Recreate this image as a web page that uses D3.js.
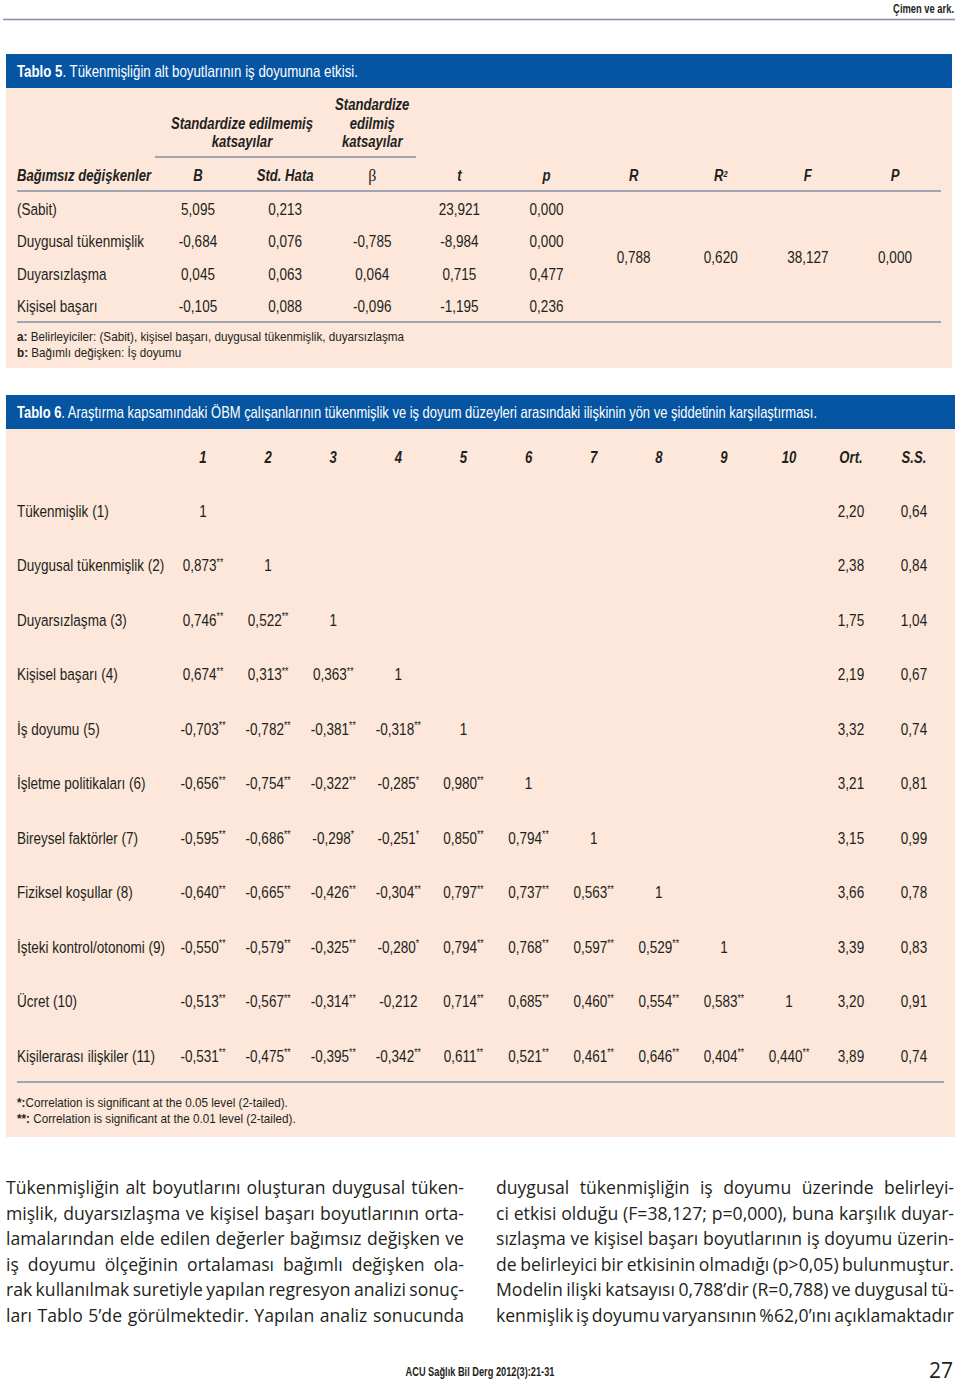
<!DOCTYPE html>
<html><head><meta charset="utf-8">
<script src="https://cdn.jsdelivr.net/npm/d3@7"></script>
<style>body{margin:0;background:#fff}svg{display:block}</style>
</head><body>
<svg id="page" width="960" height="1383"></svg>
<script>
// ---------- DATA ----------
const t5Title = ["Tablo 5", ". Tükenmişliğin alt boyutlarının iş doyumuna etkisi."];
const t5Columns = ["B", "Std. Hata", "β", "t", "p", "R", "R²", "F", "P"];
const t5Variables = ["(Sabit)", "Duygusal tükenmişlik", "Duyarsızlaşma", "Kişisel başarı"];
const t5B = [5.095, -0.684, 0.045, -0.105];
const t5StdErr = [0.213, 0.076, 0.063, 0.088];
const t5Beta = [null, -0.785, 0.064, -0.096];
const t5T = [23.921, -8.984, 0.715, -1.195];
const t5P = [0.000, 0.000, 0.477, 0.236];
const t5Model = {R: 0.788, "R²": 0.620, F: 38.127, P: 0.000};
const t5Notes = [["a:", " Belirleyiciler: (Sabit), kişisel başarı, duygusal tükenmişlik, duyarsızlaşma"],
                 ["b:", " Bağımlı değişken: İş doyumu"]];

const t6Title = ["Tablo 6", ". Araştırma kapsamındaki ÖBM çalışanlarının tükenmişlik ve iş doyum düzeyleri arasındaki ilişkinin yön ve şiddetinin karşılaştırması."];
const t6Columns = ["1","2","3","4","5","6","7","8","9","10"];
const t6StatColumns = ["Ort.", "S.S."];
const t6Variables = ["Tükenmişlik (1)", "Duygusal tükenmişlik (2)", "Duyarsızlaşma (3)", "Kişisel başarı (4)",
  "İş doyumu (5)", "İşletme politikaları (6)", "Bireysel faktörler (7)", "Fiziksel koşullar (8)",
  "İşteki kontrol/otonomi (9)", "Ücret (10)", "Kişilerarası ilişkiler (11)"];
const t6Corr = [
  [1],
  [0.873, 1],
  [0.746, 0.522, 1],
  [0.674, 0.313, 0.363, 1],
  [-0.703, -0.782, -0.381, -0.318, 1],
  [-0.656, -0.754, -0.322, -0.285, 0.980, 1],
  [-0.595, -0.686, -0.298, -0.251, 0.850, 0.794, 1],
  [-0.640, -0.665, -0.426, -0.304, 0.797, 0.737, 0.563, 1],
  [-0.550, -0.579, -0.325, -0.280, 0.794, 0.768, 0.597, 0.529, 1],
  [-0.513, -0.567, -0.314, -0.212, 0.714, 0.685, 0.460, 0.554, 0.583, 1],
  [-0.531, -0.475, -0.395, -0.342, 0.611, 0.521, 0.461, 0.646, 0.404, 0.440]
];
const t6Sig = [
  [""],
  ["**", ""],
  ["**", "**", ""],
  ["**", "**", "**", ""],
  ["**", "**", "**", "**", ""],
  ["**", "**", "**", "*", "**", ""],
  ["**", "**", "*", "*", "**", "**", ""],
  ["**", "**", "**", "**", "**", "**", "**", ""],
  ["**", "**", "**", "*", "**", "**", "**", "**", ""],
  ["**", "**", "**", "", "**", "**", "**", "**", "**", ""],
  ["**", "**", "**", "**", "**", "**", "**", "**", "**", "**"]
];
const t6Mean = [2.20, 2.38, 1.75, 2.19, 3.32, 3.21, 3.15, 3.66, 3.39, 3.20, 3.89];
const t6SD = [0.64, 0.84, 1.04, 0.67, 0.74, 0.81, 0.99, 0.78, 0.83, 0.91, 0.74];
const t6Notes = [["*:", "Correlation is significant at the 0.05 level (2-tailed)."],
                 ["**:", " Correlation is significant at the 0.01 level (2-tailed)."]];

const bodyLeft = [
  "Tükenmişliğin alt boyutlarını oluşturan duygusal tüken-",
  "mişlik, duyarsızlaşma ve kişisel başarı boyutlarının orta-",
  "lamalarından elde edilen değerler bağımsız değişken ve",
  "iş doyumu ölçeğinin ortalaması bağımlı değişken ola-",
  "rak kullanılmak suretiyle yapılan regresyon analizi sonuç-",
  "ları Tablo 5’de görülmektedir. Yapılan analiz sonucunda"];
const bodyRight = [
  "duygusal tükenmişliğin iş doyumu üzerinde belirleyi-",
  "ci etkisi olduğu (F=38,127; p=0,000), buna karşılık duyar-",
  "sızlaşma ve kişisel başarı boyutlarının iş doyumu üzerin-",
  "de belirleyici bir etkisinin olmadığı (p>0,05) bulunmuştur.",
  "Modelin ilişki katsayısı 0,788’dir (R=0,788) ve duygusal tü-",
  "kenmişlik iş doyumu varyansının %62,0’ını açıklamaktadır"];
const runningHead = "Çimen ve ark.";
const footerText = "ACU Sağlık Bil Derg 2012(3):21-31";
const pageNumber = "27";

// ---------- STYLE ----------
const NARROW = "'Liberation Sans','Arimo',Arial,sans-serif";   // condensed via horizontal scale
const SX = 0.82;
const BODY = "'Open Sans','Noto Sans',sans-serif";
const BLUE = "#0655a2", PEACH = "#fce7da", RULE = "#8090a6", INK = "#231f20";

const loc = d3.formatLocale({decimal: ",", thousands: ".", grouping: [3], currency: ["", ""], minus: "-"});
const f3 = loc.format(".3f"), f2 = loc.format(".2f");

const svg = d3.select("#page");
svg.append("rect").attr("width", 960).attr("height", 1383).attr("fill", "#fff");

function txt(g, x, y, s, o = {}) {
  const sx = o.sx !== undefined ? o.sx : SX;
  return g.append("text").attr("transform", `translate(${x},${y}) scale(${sx},1)`).attr("dy", "0.36em")
    .attr("text-anchor", o.anchor || "start")
    .attr("font-family", o.family || NARROW)
    .attr("font-size", o.size || 16.5)
    .attr("font-weight", o.weight || "normal")
    .attr("font-style", o.style || "normal")
    .attr("fill", o.fill || INK)
    .text(s);
}
function rule(x1, x2, y) {
  svg.append("line").attr("x1", x1).attr("x2", x2).attr("y1", y).attr("y2", y)
    .attr("stroke", RULE).attr("stroke-width", 1.3);
}

const CELL = 16.5, HEAD = 16;

// running head
txt(svg, 954, 8, runningHead, {anchor: "end", size: 12.5, weight: "bold", sx: 0.75});
rule(3, 955, 19.5);

// ---------- TABLO 5 ----------
svg.append("rect").attr("x", 6).attr("y", 54).attr("width", 946).attr("height", 34).attr("fill", BLUE);
svg.append("rect").attr("x", 6).attr("y", 88).attr("width", 946).attr("height", 280).attr("fill", PEACH);
{
  const t = txt(svg, 17, 71, null, {fill: "#fff", size: 16.2});
  t.append("tspan").attr("font-weight", "bold").text(t5Title[0]);
  t.append("tspan").text(t5Title[1]);
}
const x5 = d3.scalePoint().domain(t5Columns).range([198, 895]);
const y5 = d3.scalePoint().domain(t5Variables).range([209, 306]);

const hb = {weight: "bold", style: "italic", anchor: "middle", size: HEAD};
txt(svg, 242, 123, "Standardize edilmemiş", hb);
txt(svg, 242, 141, "katsayılar", hb);
txt(svg, x5("β"), 104, "Standardize", hb);
txt(svg, x5("β"), 123, "edilmiş", hb);
txt(svg, x5("β"), 141, "katsayılar", hb);
rule(155, 416, 157);

txt(svg, 17, 175, "Bağımsız değişkenler", {weight: "bold", style: "italic", size: HEAD});
t5Columns.forEach(c => {
  if (c === "β") {
    txt(svg, x5(c), 175, c, {anchor: "middle", family: "'Liberation Serif','DejaVu Serif',serif", size: 16, sx: 1});
  } else if (c === "R²") {
    const t = txt(svg, x5(c), 175, null, hb);
    t.append("tspan").text("R");
    t.append("tspan").attr("font-size", 9).attr("dy", "-0.45em").text("2");
  } else {
    txt(svg, x5(c), 175, c, hb);
  }
});
rule(17, 941, 191);

const t5Cells = [["B", t5B], ["Std. Hata", t5StdErr], ["β", t5Beta], ["t", t5T], ["p", t5P]];
t5Variables.forEach((v, i) => {
  txt(svg, 17, y5(v), v, {size: CELL});
  t5Cells.forEach(([c, arr]) => {
    if (arr[i] !== null) txt(svg, x5(c), y5(v), f3(arr[i]), {anchor: "middle", size: CELL});
  });
});
const yMid = (y5(t5Variables[1]) + y5(t5Variables[2])) / 2;
Object.entries(t5Model).forEach(([k, val]) => txt(svg, x5(k), yMid, f3(val), {anchor: "middle", size: CELL}));
rule(17, 941, 322);
t5Notes.forEach((n, i) => {
  const t = txt(svg, 17, 336 + i * 16, null, {size: 13.6, sx: 0.86});
  t.append("tspan").attr("font-weight", "bold").text(n[0]);
  t.append("tspan").text(n[1]);
});

// ---------- TABLO 6 ----------
svg.append("rect").attr("x", 6).attr("y", 395).attr("width", 949).attr("height", 34).attr("fill", BLUE);
svg.append("rect").attr("x", 6).attr("y", 429).attr("width", 949).attr("height", 708).attr("fill", PEACH);
{
  const t = txt(svg, 17, 412, null, {fill: "#fff", size: 16, sx: 0.81});
  t.append("tspan").attr("font-weight", "bold").text(t6Title[0]);
  t.append("tspan").text(t6Title[1]);
}
const x6 = d3.scalePoint().domain(t6Columns).range([203, 789]);
const x6s = d3.scalePoint().domain(t6StatColumns).range([851, 914]);
const y6 = d3.scalePoint().domain(t6Variables).range([511, 1056]);

t6Columns.forEach(c => txt(svg, x6(c), 457, c, hb));
t6StatColumns.forEach(c => txt(svg, x6s(c), 457, c, hb));

t6Variables.forEach((v, i) => {
  const y = y6(v);
  txt(svg, 17, y, v, {size: CELL});
  t6Corr[i].forEach((val, j) => {
    const t = txt(svg, x6(t6Columns[j]), y, null, {anchor: "middle", size: CELL});
    t.append("tspan").text(val === 1 ? "1" : f3(val));
    if (t6Sig[i][j]) t.append("tspan").attr("font-size", 10.5).attr("dy", "-0.55em").text(t6Sig[i][j]);
  });
  txt(svg, x6s("Ort."), y, f2(t6Mean[i]), {anchor: "middle", size: CELL});
  txt(svg, x6s("S.S."), y, f2(t6SD[i]), {anchor: "middle", size: CELL});
});
rule(17, 944, 1082);
t6Notes.forEach((n, i) => {
  const t = txt(svg, 17, 1102 + i * 16, null, {size: 13.6, sx: 0.86});
  t.append("tspan").attr("font-weight", "bold").text(n[0]);
  t.append("tspan").text(n[1]);
});

// ---------- BODY TEXT (justified) ----------
function justify(lines, x0, x1, baseY, lh, size) {
  const g = svg.append("g");
  const W = x1 - x0;
  lines.forEach((line, i) => {
    const words = line.split(" ");
    const nodes = words.map(w => g.append("text").attr("y", baseY + i * lh)
      .attr("font-family", BODY).attr("font-size", size).attr("fill", INK).text(w));
    const widths = nodes.map(n => n.node().getComputedTextLength());
    const total = d3.sum(widths);
    const gap = (W - total) / (words.length - 1);
    let x = x0;
    nodes.forEach((n, k) => { n.attr("x", x); x += widths[k] + gap; });
  });
}
justify(bodyLeft, 6, 464, 1194, 25.6, 17.6);
justify(bodyRight, 496, 954, 1194, 25.6, 17.6);

// footer
txt(svg, 480, 1371, footerText, {anchor: "middle", weight: "bold", size: 12.5, sx: 0.74});
svg.append("text").attr("x", 953).attr("y", 1378).attr("text-anchor", "end")
  .attr("font-family", BODY).attr("font-size", 21).attr("fill", INK).text(pageNumber);
</script>
</body></html>
